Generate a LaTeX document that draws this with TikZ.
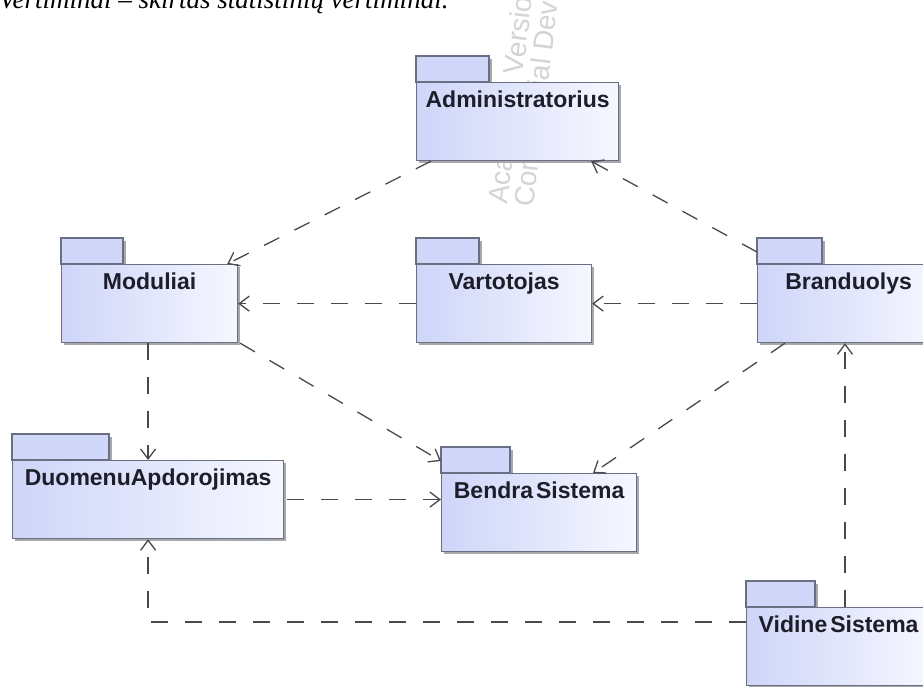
\documentclass[tikz,border=0pt]{standalone}
\usepackage{fontspec}
\setmainfont{Liberation Serif}
\newfontfamily\pkgfont{Liberation Sans}
\usetikzlibrary{arrows.meta}

\definecolor{pkgL}{RGB}{206,213,248}
\definecolor{pkgR}{RGB}{246,247,255}
\definecolor{pkgTab}{RGB}{208,215,248}
\definecolor{pkgLine}{RGB}{105,112,132}
\definecolor{pkgShadow}{RGB}{168,168,172}
\definecolor{labelInk}{RGB}{30,30,42}
\definecolor{depLine}{RGB}{72,72,78}
\definecolor{wmark}{RGB}{212,212,212}

\tikzset{
  pkgbody/.style={rectangle, draw=pkgLine, line width=1.2pt, left color=pkgL,
    right color=pkgR, inner sep=0pt, anchor=north west},
  pkgtab/.style={draw=pkgLine, line width=1.2pt, fill=pkgTab},
  pkgshade/.style={fill=pkgShadow},
  pkglabel/.style={anchor=base, inner sep=0pt, text=labelInk,
    font=\pkgfont\bfseries\fontsize{23}{27}\selectfont},
  dep/.style={draw=depLine, line width=1.3pt, dash pattern=on 17pt off 17pt,
    -{Straight Barb[length=10pt,width=15pt]}},
  wmtext/.style={anchor=base west, inner sep=0pt, rotate=83, text=wmark,
    font=\pkgfont\fontsize{28}{32}\selectfont},
}

% UML package: #1 name, #2 left x, #3 body top y, #4 body width, #5 tab width, #6 label
\newcommand{\umlpackage}[6]{%
  \fill[pkgshade] (#2+3,#3-23) rectangle (#2+#5+3,#3);
  \fill[pkgshade] (#2+3,#3+3) rectangle (#2+#4+3,#3+81);
  \draw[pkgtab] (#2,#3-26) rectangle (#2+#5,#3);
  \node[pkgbody, minimum width=#4pt, minimum height=78pt] (#1) at (#2,#3) {};
  \node[pkglabel] at ([yshift=-25pt]#1.north) {#6};
}

\begin{document}
\begin{tikzpicture}[x=1pt, y=-1pt]
  \useasboundingbox (0,0) rectangle (923,686);
  \clip (0,0) rectangle (923,686);
  \fill[white] (0,0) rectangle (923,686);

  % caption line running off the top edge
  \node[anchor=base west, inner sep=0pt, font=\itshape\fontsize{27}{31}\selectfont]
    (caption) at (-1,8) {Vertiminai – skirtas statistinių vertiminai.};

  % tool watermark
  \node[wmtext] (wm1) at (507,205) {Academic Version};
  \node[wmtext] (wm2) at (533,208) {Commercial Development};

  % packages
  \umlpackage{admin}{416}{82}{202}{73}{Administratorius}
  \umlpackage{mod}{61}{264}{176}{62}{Moduliai}
  \umlpackage{vart}{416}{264}{175}{63}{Vartotojas}
  \umlpackage{brand}{757}{264}{182}{65}{Branduolys}
  \umlpackage{duo}{12}{460}{271}{97}{DuomenuApdorojimas}
  \umlpackage{bendra}{441}{473}{195}{69}{Bendra\kern3pt Sistema}
  \umlpackage{vid}{746}{607}{184}{69}{Vidine\kern3pt Sistema}

  % dependencies
  \draw[dep] ([xshift=15pt]admin.south west) -- ([xshift=-11pt]mod.north east);
  \draw[dep] ([yshift=12pt]brand.north west) -- ([xshift=-28pt]admin.south east);
  \draw[dep] (vart.west) -- (mod.east);
  \draw[dep] (brand.west) -- (vart.east);
  \draw[dep] ([xshift=2pt]mod.south east) -- ([yshift=12pt]bendra.north west);
  \draw[dep] ([xshift=28pt]brand.south west) -- ([xshift=152pt]bendra.north west);
  \draw[dep] (duo.north |- mod.south) -- (duo.north);
  \draw[dep] ([xshift=3pt]duo.east) -- (bendra.west |- duo.east);
  \coordinate (vtop) at ([xshift=99pt]vid.north west);
  \draw[dep] (vtop) -- (vtop |- brand.south);
  \coordinate (vleft) at ([yshift=-15pt]vid.north west);
  \draw[dep] (vleft) -| (duo.south);
\end{tikzpicture}
\end{document}
